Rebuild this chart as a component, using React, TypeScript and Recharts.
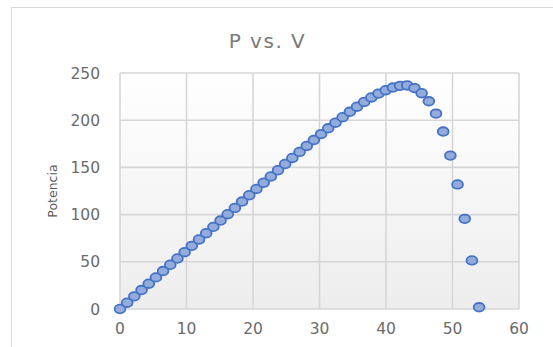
import React from "react";
import { ScatterChart, Scatter, XAxis, YAxis, CartesianGrid } from "recharts";

const voltage = [
  0, 1.08, 2.16, 3.24, 4.32, 5.4, 6.48, 7.56, 8.64, 9.72,
  10.8, 11.88, 12.96, 14.04, 15.12, 16.2, 17.28, 18.36, 19.44, 20.52,
  21.6, 22.68, 23.76, 24.84, 25.92, 27.0, 28.08, 29.16, 30.24, 31.32,
  32.4, 33.48, 34.56, 35.64, 36.72, 37.8, 38.88, 39.96, 41.04, 42.12,
  43.2, 44.28, 45.36, 46.44, 47.52, 48.6, 49.68, 50.76, 51.84, 52.92, 54.0,
];
const power = [
  0, 6.7, 13.4, 20.1, 26.8, 33.5, 40.2, 46.9, 53.5, 60.2,
  66.9, 73.6, 80.3, 87.0, 93.7, 100.4, 107.1, 113.8, 120.5, 127.2,
  133.8, 140.4, 147.0, 153.6, 160.0, 166.4, 172.7, 179.0, 185.3, 191.4,
  197.3, 203.2, 208.9, 214.3, 219.4, 224.1, 228.2, 231.8, 234.6, 236.4,
  236.8, 234.0, 228.6, 220.0, 207.0, 188.0, 162.5, 132.0, 95.5, 51.5, 1.8,
];
const xTicks = [0, 10, 20, 30, 40, 50, 60];
const yTicks = [0, 50, 100, 150, 200, 250];
const chartTitle = "P vs. V";
const yLabel = "Potencia";

const data = voltage.map((v, i) => ({ v, p: power[i] }));

const FONT = "'DejaVu Sans', sans-serif";

const Dot = (props: any) => {
  const { cx, cy } = props;
  if (cx == null || cy == null) return null;
  return (
    <ellipse
      cx={cx}
      cy={cy}
      rx={5.4}
      ry={4.3}
      fill="#93acdc"
      stroke="#4472c4"
      strokeWidth={1.8}
    />
  );
};

export default function App() {
  return (
    <div
      style={{
        position: "fixed",
        left: 0,
        top: 0,
        width: 553,
        height: 347,
        overflow: "hidden",
        background: "#fff",
        fontFamily: FONT,
      }}
    >
      <div
        style={{
          position: "absolute",
          left: 11,
          top: 7,
          width: 600,
          height: 400,
          border: "1px solid #d9d9d9",
          boxSizing: "border-box",
        }}
      />
      <div
        style={{
          position: "absolute",
          left: 0,
          top: 29,
          width: 535,
          textAlign: "center",
          fontSize: 20,
          letterSpacing: 1.5,
          color: "#7a7a7a",
        }}
      >
        {chartTitle}
      </div>
      <div style={{ position: "absolute", left: 0, top: 0 }}>
        <ScatterChart
          width={553}
          height={347}
          margin={{ top: 73, right: 34, bottom: 8, left: 60 }}
        >
          <defs>
            <linearGradient id="plotGrad" x1="0" y1="0" x2="0" y2="1">
              <stop offset="0%" stopColor="#ffffff" />
              <stop offset="100%" stopColor="#ededed" />
            </linearGradient>
          </defs>
          <CartesianGrid
            stroke="#d6d6d6"
            strokeWidth={1.6}
            fill="url(#plotGrad)"
            fillOpacity={1}
          />
          <XAxis
            type="number"
            dataKey="v"
            domain={[0, 60]}
            ticks={xTicks}
            height={30}
            axisLine={false}
            tickLine={false}
            tickSize={0}
            tickMargin={14}
            tick={{ fill: "#6b6b6b", fontSize: 15.5, fontFamily: FONT }}
            interval={0}
          />
          <YAxis
            type="number"
            dataKey="p"
            domain={[0, 250]}
            ticks={yTicks}
            width={60}
            axisLine={false}
            tickLine={false}
            tickSize={0}
            tickMargin={20}
            tick={{ fill: "#6b6b6b", fontSize: 15.5, fontFamily: FONT }}
            interval={0}
            label={{
              value: yLabel,
              angle: -90,
              position: "insideLeft",
              offset: -7,
              style: { fill: "#5a5a5a", fontSize: 12.5, fontFamily: FONT, textAnchor: "middle" },
            }}
          />
          <Scatter data={data} shape={Dot} isAnimationActive={false} />
        </ScatterChart>
      </div>
    </div>
  );
}
